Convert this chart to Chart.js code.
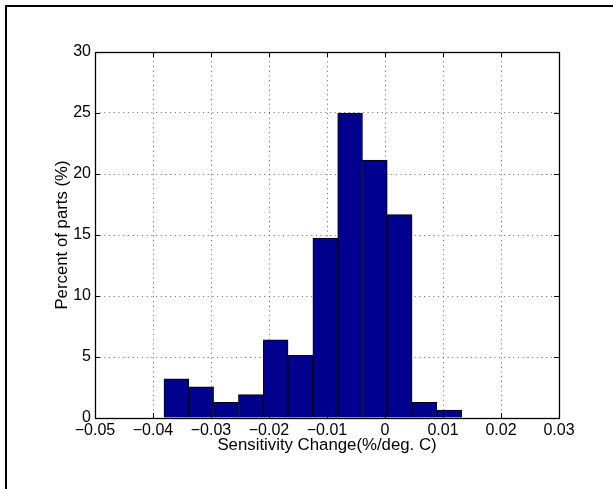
<!DOCTYPE html>
<html><head><meta charset="utf-8">
<script src="https://cdn.jsdelivr.net/npm/chart.js@4"></script>
<style>
html,body{margin:0;padding:0;background:#fff;}
#wrap{position:relative;width:613px;height:489px;overflow:hidden;background:#fff;}
#frame{position:absolute;left:5px;top:5px;width:700px;height:600px;border-left:2px solid #000;border-top:2px solid #000;pointer-events:none;}
canvas{position:absolute;left:0;top:0;}
</style></head><body>
<div id="wrap"><canvas id="c" width="613" height="489"></canvas><div id="frame"></div></div>
<script>
// Histogram bin centres (Sensitivity Change, %/deg. C)
const binCenters = [-0.03597, -0.03169, -0.02741, -0.02313, -0.01885, -0.01458, -0.01030, -0.00602, -0.00175, 0.00253, 0.00681, 0.01109];
// Percent of parts in each bin
const percentParts = [3.21, 2.56, 1.28, 1.92, 6.41, 5.13, 14.74, 25.0, 21.15, 16.67, 1.28, 0.64];
const xTickLabels = ['\u22120.05', '\u22120.04', '\u22120.03', '\u22120.02', '\u22120.01', '0', '0.01', '0.02', '0.03'];
const yTickLabels = ['0', '5', '10', '15', '20', '25', '30'];
const xLabel = 'Sensitivity Change(%/deg. C)';
const yLabel = 'Percent of parts (%)';

const FONT = 'Liberation Sans, Arial, Helvetica, sans-serif';

const frameTicks = {
  id: 'frameTicks',
  afterDraw(chart) {
    const {ctx, chartArea: a, scales: {x, y}} = chart;
    ctx.save();
    ctx.strokeStyle = '#000';
    ctx.lineWidth = 1;
    const L = 5;
    ctx.beginPath();
    x.ticks.forEach(t => {
      const px = Math.round(x.getPixelForValue(t.value)) + 0.5;
      ctx.moveTo(px, a.bottom); ctx.lineTo(px, a.bottom - L);
      ctx.moveTo(px, a.top); ctx.lineTo(px, a.top + L);
    });
    y.ticks.forEach(t => {
      const py = Math.round(y.getPixelForValue(t.value)) + 0.5;
      ctx.moveTo(a.left, py); ctx.lineTo(a.left + L, py);
      ctx.moveTo(a.right, py); ctx.lineTo(a.right - L, py);
    });
    ctx.stroke();
    ctx.lineWidth = 1.3;
    ctx.strokeRect(Math.round(a.left) + 0.5, Math.round(a.top) + 0.5, Math.round(a.right - a.left), Math.round(a.bottom - a.top));
    ctx.restore();
  }
};

new Chart(document.getElementById('c'), {
  type: 'bar',
  data: {
    datasets: [{
      data: binCenters.map((c, i) => ({x: c, y: percentParts[i]})),
      backgroundColor: 'rgb(0,0,143)',
      borderColor: '#000',
      borderWidth: 1,
      barPercentage: 1,
      categoryPercentage: 1
    }]
  },
  options: {
    responsive: false,
    animation: false,
    devicePixelRatio: 1,
    layout: {padding: {left: 0, right: 54, top: 52, bottom: 0}},
    plugins: {legend: {display: false}, tooltip: {enabled: false}},
    scales: {
      x: {
        type: 'linear',
        min: -0.05, max: 0.03,
        offset: false,
        grid: {offset: false, color: '#666', drawTicks: false, lineWidth: 1},
        border: {display: false, dash: [1, 3.7]},
        ticks: {stepSize: 0.01, padding: 3, color: '#000', font: {family: FONT, size: 16},
          maxRotation: 0, autoSkip: false,
          callback: (v, i) => xTickLabels[i]},
        title: {display: true, text: xLabel, color: '#000', font: {family: FONT, size: 16.8}, padding: {top: 0, bottom: 33.9}},
        afterFit: s => { s.height = 71; }
      },
      y: {
        min: 0, max: 30,
        grid: {color: '#666', drawTicks: false, lineWidth: 1},
        border: {display: false, dash: [1, 3.7]},
        ticks: {stepSize: 5, padding: 4, color: '#000', font: {family: FONT, size: 16},
          callback: (v, i) => yTickLabels[i]},
        title: {display: true, text: yLabel, color: '#000', font: {family: FONT, size: 16.8}, padding: {top: 51.9, bottom: 0}},
        afterFit: s => { s.width = 95; }
      }
    }
  },
  plugins: [frameTicks]
});
</script>
</body></html>
